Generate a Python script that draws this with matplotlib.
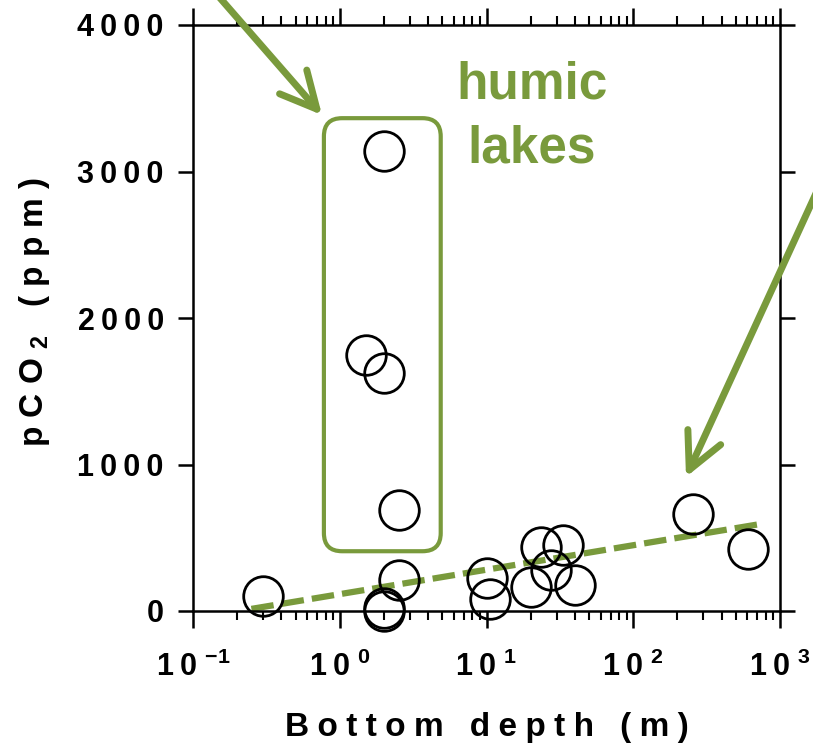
import matplotlib
matplotlib.use("Agg")
import matplotlib.pyplot as plt
from matplotlib.patches import FancyBboxPatch, FancyArrowPatch
from matplotlib.ticker import FixedLocator, LogLocator, NullFormatter
import numpy as np

# Data
# lakes outside the humic box: bottom depth (m), pCO2 (ppm)
depth = [0.30, 2.0, 2.0, 2.55, 10.0, 10.6, 20.0, 23.5, 27.4, 33.4, 40.1, 254, 605]
pco2 = [104, 0, 18, 212, 223, 80, 166, 439, 280, 450, 177, 664, 422]

# humic lakes (inside the green box)
humic_depth = [2.55, 2.0, 1.5, 2.0]
humic_pco2 = [687, 1622, 1747, 3142]

# dashed fit line: pCO2 = a + b*log10(depth)
fit_a = 115
fit_b = 167
fit_range = [0.25, 750]

ts = "\u2009"  # thin space, the original text is letter-spaced
fs = "\u2005"  # a bit wider for the x label
xticks = [0.1, 1, 10, 100, 1000]
xticklabels = ["1" + ts + "0 $^{-1}$", "1" + ts + "0 $^{0}$", "1" + ts + "0 $^{1}$",
               "1" + ts + "0 $^{2}$", "1" + ts + "0 $^{3}$"]
yticks = [0, 1000, 2000, 3000, 4000]
yticklabels = [ts.join(str(v)) for v in yticks]

green = "#799A3C"

plt.rcParams['font.family'] = ['Liberation Sans', 'DejaVu Sans']
plt.rcParams['font.weight'] = 'bold'
plt.rcParams['mathtext.fontset'] = 'custom'
plt.rcParams['mathtext.rm'] = 'Liberation Sans:bold'
plt.rcParams['mathtext.it'] = 'Liberation Sans:bold'
plt.rcParams['mathtext.bf'] = 'Liberation Sans:bold'

fig = plt.figure(figsize=(8.13, 7.5), dpi=100)
ax = fig.add_axes([193/813, 1 - 611/750, 587/813, 586/750])

# fit line
fx = np.array(fit_range)
fy = fit_a + fit_b * np.log10(fx)
line, = ax.plot(fx, fy, color=green, lw=4.5, zorder=2)
line.set_dashes((3.6, 1.3))

# circles
ax.plot(depth, pco2, 'o', ms=28.5, mfc='none', mec='black', mew=2, zorder=3, clip_on=False)
ax.plot(humic_depth, humic_pco2, 'o', ms=28.5, mfc='none', mec='black', mew=2, zorder=3, clip_on=False)

ax.set_xscale('log')
ax.set_xlim(0.1, 1000)
ax.set_ylim(0, 4000)

ax.xaxis.set_major_locator(FixedLocator(xticks))
ax.set_xticklabels(xticklabels)
ax.xaxis.set_minor_locator(LogLocator(base=10, subs=np.arange(2, 10)))
ax.xaxis.set_minor_formatter(NullFormatter())
ax.set_yticks(yticks)
ax.set_yticklabels(yticklabels)

for s in ax.spines.values():
    s.set_linewidth(1.8)

ax.tick_params(axis='x', which='major', direction='out', length=12, width=1.8,
               top=True, bottom=True, labelsize=22, pad=17)
ax.tick_params(axis='x', which='minor', direction='out', length=6.5, width=1.5,
               top=True, bottom=True)
ax.tick_params(axis='y', which='major', direction='out', length=11, width=1.8,
               left=True, right=True, labelsize=22, pad=10)

xlab = fs.join("Bottom") + fs + " " + fs + fs.join("depth") + fs + " " + fs + fs.join("(m)")
ax.set_xlabel(xlab, fontsize=24, fontweight='bold')
ax.xaxis.set_label_coords(0.5, -0.172)
ax.set_ylabel("p C O $_{2}$   ( p p m )", fontsize=24, fontweight='bold')
ax.yaxis.set_label_coords(-0.241, 0.51)

# green box around the humic lakes
box = FancyBboxPatch((0.223, 0.102), 0.199, 0.739,
                     boxstyle="round,pad=0,rounding_size=0.031",
                     transform=ax.transAxes, fc='none', ec=green, lw=3, zorder=1)
ax.add_patch(box)

ax.text(0.5775, 0.8754, "humic", transform=ax.transAxes, color=green,
        fontsize=37, fontweight='bold', ha='center', va='baseline')
ax.text(0.5775, 0.7662, "lakes", transform=ax.transAxes, color=green,
        fontsize=37, fontweight='bold', ha='center', va='baseline')

# arrows coming in from outside the figure
arrow_style = "->,head_length=2.6,head_width=1.3"
a1 = FancyArrowPatch((213/813, 1 + 10/750), (322/813, 1 - 115/750),
                     transform=fig.transFigure, arrowstyle=arrow_style,
                     mutation_scale=10, lw=5, color=green, shrinkA=0, shrinkB=0)
a2 = FancyArrowPatch((818/813, 1 - 189/750), (686/813, 1 - 477/750),
                     transform=fig.transFigure, arrowstyle=arrow_style,
                     mutation_scale=10, lw=5, color=green, shrinkA=0, shrinkB=0)
fig.add_artist(a1)
fig.add_artist(a2)

fig.savefig("out.png", dpi=100, facecolor='white')
